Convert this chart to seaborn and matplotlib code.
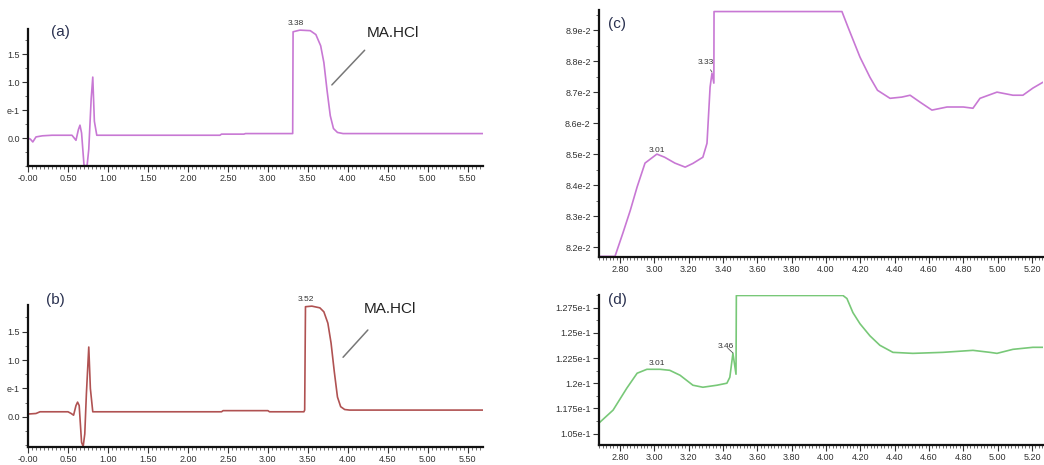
import matplotlib
matplotlib.use("Agg")
import matplotlib.pyplot as plt
from matplotlib.ticker import FixedLocator, MultipleLocator
import seaborn as sns
import pandas as pd

sns.set_style("ticks")
plt.rcParams['font.family'] = ['Liberation Sans Narrow', 'Liberation Sans', 'DejaVu Sans']

# ---------------- data ----------------
# (a) full chromatogram, sample 1
a_time = [0.0, 0.03, 0.06, 0.10, 0.18, 0.30, 0.55, 0.60, 0.63, 0.65, 0.67, 0.70, 0.72, 0.74, 0.76,
          0.79, 0.81, 0.83, 0.86, 1.50, 2.40, 2.42, 2.70, 2.72, 3.31, 3.315, 3.40, 3.53, 3.60,
          3.66, 3.70, 3.74, 3.78, 3.82, 3.87, 3.94, 4.50, 5.69]
a_sig = [0.0, -0.02, -0.07, 0.02, 0.04, 0.05, 0.05, -0.04, 0.15, 0.23, 0.09, -0.48, -0.5, -0.48,
         -0.2, 0.7, 1.09, 0.3, 0.05, 0.05, 0.05, 0.07, 0.07, 0.08, 0.08, 1.90, 1.93, 1.92, 1.85,
         1.65, 1.35, 0.85, 0.40, 0.17, 0.10, 0.08, 0.08, 0.08]

# (b) full chromatogram, sample 2
b_time = [0.0, 0.10, 0.15, 0.50, 0.54, 0.57, 0.60, 0.62, 0.64, 0.67, 0.69, 0.71, 0.73, 0.76,
          0.78, 0.81, 1.50, 2.42, 2.44, 3.00, 3.02, 3.45, 3.46, 3.47, 3.55, 3.65, 3.70, 3.75,
          3.79, 3.83, 3.87, 3.91, 3.96, 4.02, 5.69]
b_sig = [0.05, 0.06, 0.09, 0.09, 0.06, 0.03, 0.20, 0.26, 0.20, -0.45, -0.52, -0.30, 0.40, 1.23,
         0.50, 0.09, 0.09, 0.09, 0.11, 0.11, 0.09, 0.09, 0.12, 1.94, 1.95, 1.92, 1.85, 1.65,
         1.30, 0.80, 0.35, 0.18, 0.13, 0.12, 0.12]

# (c) zoom, sample 1
c_time = [2.678, 2.771, 2.817, 2.86, 2.90, 2.946, 3.015, 3.06, 3.12, 3.18, 3.225, 3.283, 3.307,
          3.325, 3.336, 3.347, 3.348, 4.093, 4.128, 4.198, 4.256, 4.30, 4.373, 4.442, 4.49,
          4.547, 4.617, 4.705, 4.80, 4.856, 4.897, 4.996, 5.089, 5.147, 5.205, 5.264]
c_sig = [0.0817, 0.0817, 0.08245, 0.08318, 0.08394, 0.08471, 0.0850, 0.0849, 0.08471, 0.08458,
         0.0847, 0.0849, 0.08535, 0.08716, 0.08761, 0.08729, 0.0896, 0.0896, 0.0891, 0.08813,
         0.08748, 0.08706, 0.0868, 0.08684, 0.0869, 0.08668, 0.08642, 0.08652, 0.08652,
         0.08648, 0.0868, 0.0870, 0.0869, 0.0869, 0.08713, 0.08732]

# (d) zoom, sample 2
d_time = [2.678, 2.76, 2.84, 2.90, 2.957, 3.033, 3.09, 3.15, 3.225, 3.283, 3.365, 3.423, 3.44,
          3.458, 3.476, 3.478, 4.099, 4.122, 4.157, 4.198, 4.256, 4.314, 4.39, 4.506, 4.68,
          4.856, 4.955, 4.996, 5.089, 5.205, 5.264]
d_sig = [0.11605, 0.11733, 0.11951, 0.12099, 0.12138, 0.12138, 0.12128, 0.12079, 0.1198, 0.1196,
         0.1198, 0.1200, 0.12059, 0.12296, 0.12089, 0.1287, 0.1287, 0.1284, 0.1270, 0.1259,
         0.1247, 0.12376, 0.12306, 0.12296, 0.12306, 0.12326, 0.12306, 0.12296, 0.12336,
         0.12356, 0.12356]

full_xticks = [0.0, 0.5, 1.0, 1.5, 2.0, 2.5, 3.0, 3.5, 4.0, 4.5, 5.0, 5.5]
full_xlabels = ["-0.00", "0.50", "1.00", "1.50", "2.00", "2.50", "3.00", "3.50", "4.00",
                "4.50", "5.00", "5.50"]
full_yticks = [0.0, 0.5, 1.0, 1.5]
full_ylabels = ["0.0", "e-1", "1.0", "1.5"]

zoom_xticks = [2.8, 3.0, 3.2, 3.4, 3.6, 3.8, 4.0, 4.2, 4.4, 4.6, 4.8, 5.0, 5.2]
zoom_xlabels = ["2.80", "3.00", "3.20", "3.40", "3.60", "3.80", "4.00", "4.20", "4.40",
                "4.60", "4.80", "5.00", "5.20"]
c_yticks = [0.082, 0.083, 0.084, 0.085, 0.086, 0.087, 0.088, 0.089]
c_ylabels = ["8.2e-2", "8.3e-2", "8.4e-2", "8.5e-2", "8.6e-2", "8.7e-2", "8.8e-2", "8.9e-2"]
d_yticks = [0.115, 0.1175, 0.12, 0.1225, 0.125, 0.1275]
d_ylabels = ["1.05e-1", "1.175e-1", "1.2e-1", "1.225e-1", "1.25e-1", "1.275e-1"]

col_a = "#c878d4"
col_b = "#b05252"
col_d = "#78c878"

# ---------------- figure ----------------
W, H = 1044, 465
fig = plt.figure(figsize=(W / 100, H / 100), dpi=100)


def add_ax(left, top, right, bottom):
    return fig.add_axes([left / W, 1 - bottom / H, (right - left) / W, (bottom - top) / H])


ax_a = add_ax(28, 29, 483, 166)
ax_b = add_ax(28, 305, 483, 447)
ax_c = add_ax(599, 10, 1043, 257)
ax_d = add_ax(599, 295, 1043, 445)

panels = [
    (ax_a, a_time, a_sig, col_a),
    (ax_b, b_time, b_sig, col_b),
    (ax_c, c_time, c_sig, col_a),
    (ax_d, d_time, d_sig, col_d),
]
for ax, t, s, col in panels:
    df = pd.DataFrame({"t": t, "s": s})
    sns.lineplot(data=df, x="t", y="s", ax=ax, color=col, lw=1.2, sort=False,
                 estimator=None)
    ax.set_xlabel("")
    ax.set_ylabel("")
    for sp in ["top", "right"]:
        ax.spines[sp].set_visible(False)
    for sp in ["left", "bottom"]:
        ax.spines[sp].set_linewidth(1.6)
        ax.spines[sp].set_color("#111111")
    ax.tick_params(which="major", length=4, width=0.8, labelsize=6.5, colors="#333333",
                   pad=2)
    ax.tick_params(which="minor", length=2, width=0.6, colors="#555555")

# full chromatograms
for ax, ylo, yhi in [(ax_a, -0.5, 1.95), (ax_b, -0.53, 1.97)]:
    ax.set_xlim(0.0, 5.69)
    ax.set_ylim(ylo, yhi)
    ax.xaxis.set_major_locator(FixedLocator(full_xticks))
    ax.set_xticklabels(full_xlabels)
    ax.xaxis.set_minor_locator(MultipleLocator(0.05))
    ax.yaxis.set_major_locator(FixedLocator(full_yticks))
    ax.set_yticklabels(full_ylabels)
    ax.yaxis.set_minor_locator(MultipleLocator(0.25))

# zooms
ax_c.set_xlim(2.678, 5.264)
ax_c.set_ylim(0.08168, 0.08965)
ax_d.set_xlim(2.678, 5.264)
ax_d.set_ylim(0.11387, 0.12875)
for ax in (ax_c, ax_d):
    ax.xaxis.set_major_locator(FixedLocator(zoom_xticks))
    ax.set_xticklabels(zoom_xlabels)
    ax.xaxis.set_minor_locator(MultipleLocator(0.02))
ax_c.yaxis.set_major_locator(FixedLocator(c_yticks))
ax_c.set_yticklabels(c_ylabels)
ax_c.yaxis.set_minor_locator(MultipleLocator(0.0005))
ax_d.yaxis.set_major_locator(FixedLocator(d_yticks))
ax_d.set_yticklabels(d_ylabels)
ax_d.yaxis.set_minor_locator(MultipleLocator(0.00125))

# panel letters
lab_kw = dict(fontsize=11, color="#2a3150", ha="center", va="center",
              family=['Liberation Sans', 'DejaVu Sans'])
fig.text(60 / W, 1 - 32 / H, "(a)", **lab_kw)
fig.text(55 / W, 1 - 300 / H, "(b)", **lab_kw)
fig.text(617 / W, 1 - 24 / H, "(c)", **lab_kw)
fig.text(617 / W, 1 - 300 / H, "(d)", **lab_kw)

# peak labels
pk_kw = dict(fontsize=6, color="#333333", ha="center", va="center", clip_on=False)
ax_a.text(3.35, 2.04, "3.38", **pk_kw)
ax_b.text(3.48, 2.07, "3.52", **pk_kw)
ax_c.text(3.015, 0.08513, "3.01", **pk_kw)
ax_c.annotate("3.33", xy=(3.336, 0.08765), xytext=(3.30, 0.08794), fontsize=6,
              color="#333333", ha="center", va="center",
              arrowprops=dict(arrowstyle="-", color="#555555", lw=0.6, shrinkA=2, shrinkB=0))
ax_d.text(3.015, 0.12198, "3.01", **pk_kw)
ax_d.annotate("3.46", xy=(3.458, 0.1230), xytext=(3.417, 0.12366), fontsize=6,
              color="#333333", ha="center", va="center",
              arrowprops=dict(arrowstyle="-", color="#555555", lw=0.6, shrinkA=2, shrinkB=0))

# MA.HCl callouts
for ax, p0, p1, tp in [(ax_a, (3.80, 0.95), (4.21, 1.57), (4.56, 1.875)),
                       (ax_b, (3.94, 1.05), (4.25, 1.53), (4.53, 1.90))]:
    ax.annotate("", xy=p0, xytext=p1,
                arrowprops=dict(arrowstyle="-", color="#777777", lw=1.1, shrinkA=0, shrinkB=0))
    ax.text(tp[0], tp[1], "MA.HCl", fontsize=11, color="#222222", ha="center",
            va="center", clip_on=False)

fig.savefig("out.png", dpi=100)
